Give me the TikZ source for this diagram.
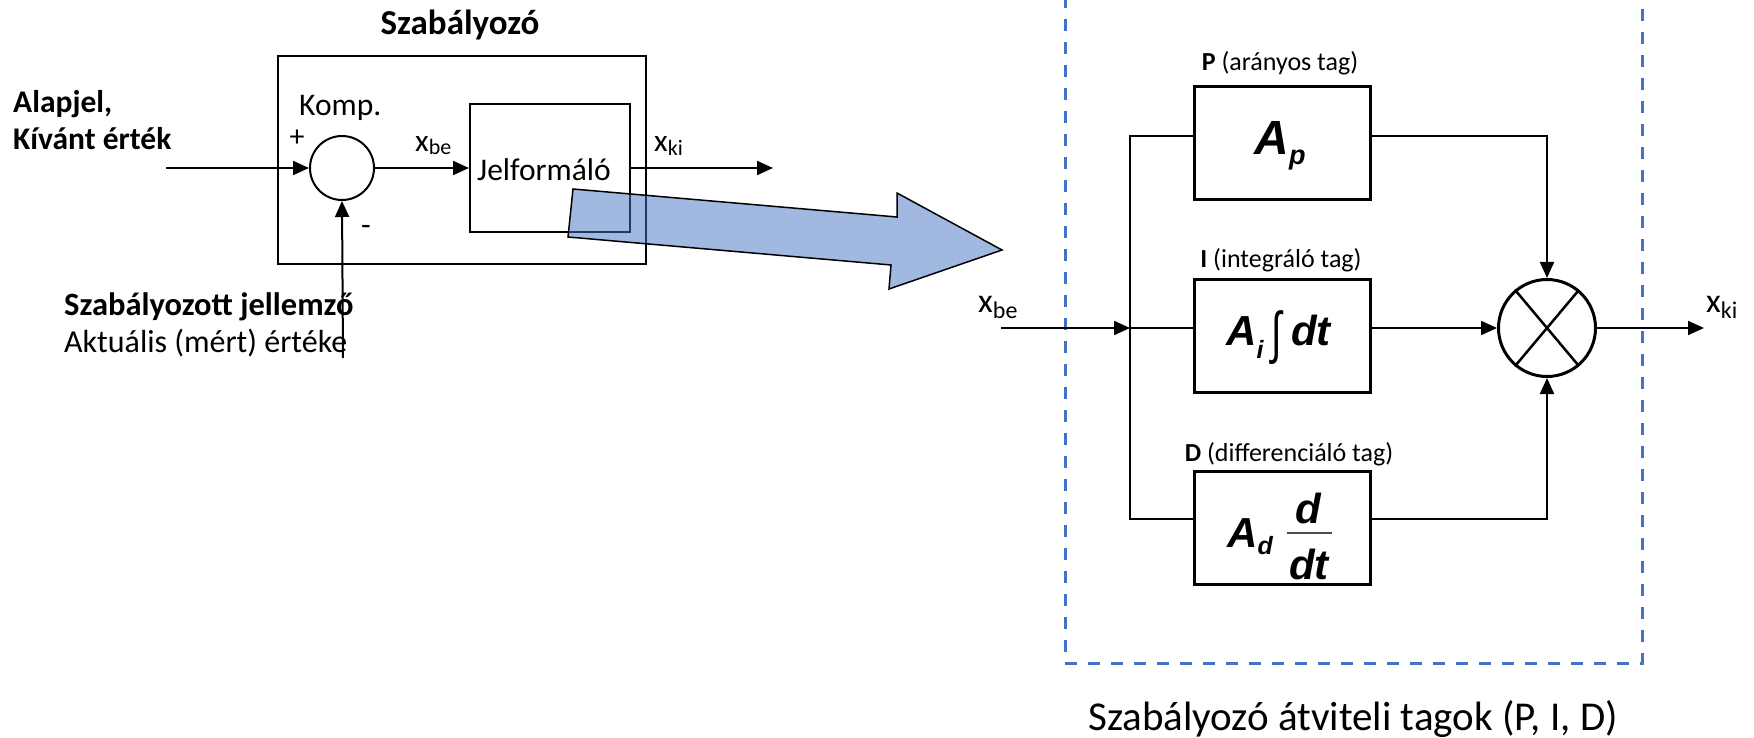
\documentclass[tikz,border=0pt]{standalone}
\usepackage{fontspec}
\setmainfont{Carlito}
\newfontfamily\arialfont{Liberation Sans}
\usetikzlibrary{arrows.meta}
\definecolor{dashblue}{HTML}{4472C4}
\newcommand{\fs}[1]{\fontsize{#1}{#1}\selectfont}
\tikzset{
  ln/.style={line width=2pt},
  arr/.style={line width=2pt,-{Triangle[length=16pt,width=14pt]}},
  blk/.style={draw,line width=3pt,minimum width=176pt,minimum height=113pt,inner sep=0pt},
  txt/.style={inner sep=0pt,font=\fs{31.5}},
  lbl/.style={inner sep=0pt,font=\fs{26}},
  mth/.style={inner sep=0pt,font=\arialfont\bfseries\itshape\fs{42}},
}
\begin{document}
\begin{tikzpicture}[x=1pt,y=-1pt]
\useasboundingbox (0,0) rectangle (1754,738);
\clip (0,0) rectangle (1754,738);

% ---------- left: controller ----------
\node[draw,ln,minimum width=368pt,minimum height=208pt,inner sep=0pt] (outer) at (462,160) {};
\node[draw,ln,minimum width=160pt,minimum height=128pt,inner sep=0pt] (J) at (550,168) {};
\node[circle,draw,ln,minimum size=64pt,inner sep=0pt] (C) at (342,168) {};

\node[txt,anchor=base,font=\bfseries\fs{35}] (title) at (460,35) {Szabályozó};
\node[txt,anchor=base west,font=\bfseries\fs{31.5}] (alap) at (13,113) {Alapjel,};
\node[txt,anchor=base west,font=\bfseries\fs{31.5}] (kiv) at (13,150) {Kívánt érték};
\node[txt,anchor=base west] (komp) at (299,116) {Komp.};
\node[txt,font=\fs{30}] (plus) at (297,138) {+};
\node[txt] (minus) at (366,230) {-};
\node[txt,anchor=base west] (xbe) at (415,152) {x\raisebox{-3pt}{\fs{22}be}};
\node[txt,anchor=base west] (jt) at (477,181) {Jelformáló};
\node[txt,anchor=base west] (xki) at (654,152) {x\raisebox{-4pt}{\fs{22}ki}};
\node[txt,anchor=base west,font=\bfseries\fs{32.5}] (szj) at (64,315) {Szabályozott jellemző};
\node[txt,anchor=base west,font=\fs{32}] (akt) at (64,352) {Aktuális (mért) értéke};

\coordinate (inL) at (166,168);
\coordinate (fb) at (343,358);
\coordinate (outL) at (773,168);
\draw[arr] (inL) -- (C.west);
\draw[arr] (fb) -- (C.south);
\draw[arr] (C.east) -- (J.west);
\draw[arr] (J.east) -- (outL);

% ---------- right: P, I, D ----------
\draw[dashblue,line width=3pt,dash pattern=on 12pt off 11pt]
  (1065,-4) -- (1065,663) -- (1642,663) -- (1642,-4);

\node[blk] (P) at (1282,143.5) {};
\node[blk] (I) at (1282,335.5) {};
\node[blk] (D) at (1282,528) {};
\node[circle,draw,line width=3pt,minimum size=97pt,inner sep=0pt] (M) at (1547,328) {};
\draw[line width=2.5pt] (M.50) -- (M.230);
\draw[line width=2.5pt] (M.130) -- (M.310);

\node[lbl,anchor=base] (Pl) at (1280,71) {\textbf{P} (arányos tag)};
\node[lbl,anchor=base] (Il) at (1281,267) {\textbf{I} (integráló tag)};
\node[lbl,anchor=base] (Dl) at (1289,461) {\textbf{D} (differenciáló tag)};

\node[mth,anchor=base,font=\arialfont\bfseries\itshape\fs{48}] (Ap) at (1280,155) {A\raisebox{-10pt}{\fs{27}p}};
\node[mth,anchor=base west] (Ai) at (1226,345) {A\raisebox{-13pt}{\fs{25}i}};
\node[inner sep=0pt] (int) at (1277,338) {\arialfont\scalebox{1}[1.5]{\fs{38}∫}};
\node[mth,anchor=base west] (dt) at (1291,345) {dt};
\node[mth,anchor=base west] (Ad) at (1227,547) {A\raisebox{-7pt}{\fs{25}d}};
\node[mth,anchor=base] (num) at (1308,523) {d};
\node[mth,anchor=base] (den) at (1309,579) {dt};
\draw[line width=1.5pt,black!70] (1287,533) -- (1332,533);

\node[txt,anchor=base west,font=\fs{34}] (xbeR) at (978,312) {x\raisebox{-6pt}{\fs{24}be}};
\node[txt,anchor=base west,font=\fs{34}] (xkiR) at (1706,312) {x\raisebox{-6pt}{\fs{24}ki}};

\coordinate (xin) at (1001,328);
\coordinate (jn) at (1130,328);
\coordinate (jtop) at (1130,136);
\coordinate (jbot) at (1130,519);
\coordinate (xout) at (1704,328);
\draw[arr] (xin) -- (jn);
\draw[ln] (jn) -- (jn -| I.west);
\draw[ln] (jtop -| P.west) -- (jtop) -- (jbot) -- (jbot -| D.west);
\draw[arr] (jtop -| P.east) -- (jtop -| M) -- (M.north);
\draw[arr] (jn -| I.east) -- (M.west);
\draw[arr] (jbot -| D.east) -- (jbot -| M) -- (M.south);
\draw[arr] (M.east) -- (xout);

\node[inner sep=0pt,anchor=base,font=\fs{41}] (cap) at (1353,730) {Szabályozó átviteli tagok (P, I, D)};

% ---------- big blue arrow ----------
\draw[fill=dashblue,fill opacity=0.5,draw=black,line width=1.5pt,line join=miter]
  (573,189) -- (897,217) -- (897,193) -- (1002,250) -- (889,289) -- (891,265) -- (568,237) -- cycle;
\end{tikzpicture}
\end{document}
